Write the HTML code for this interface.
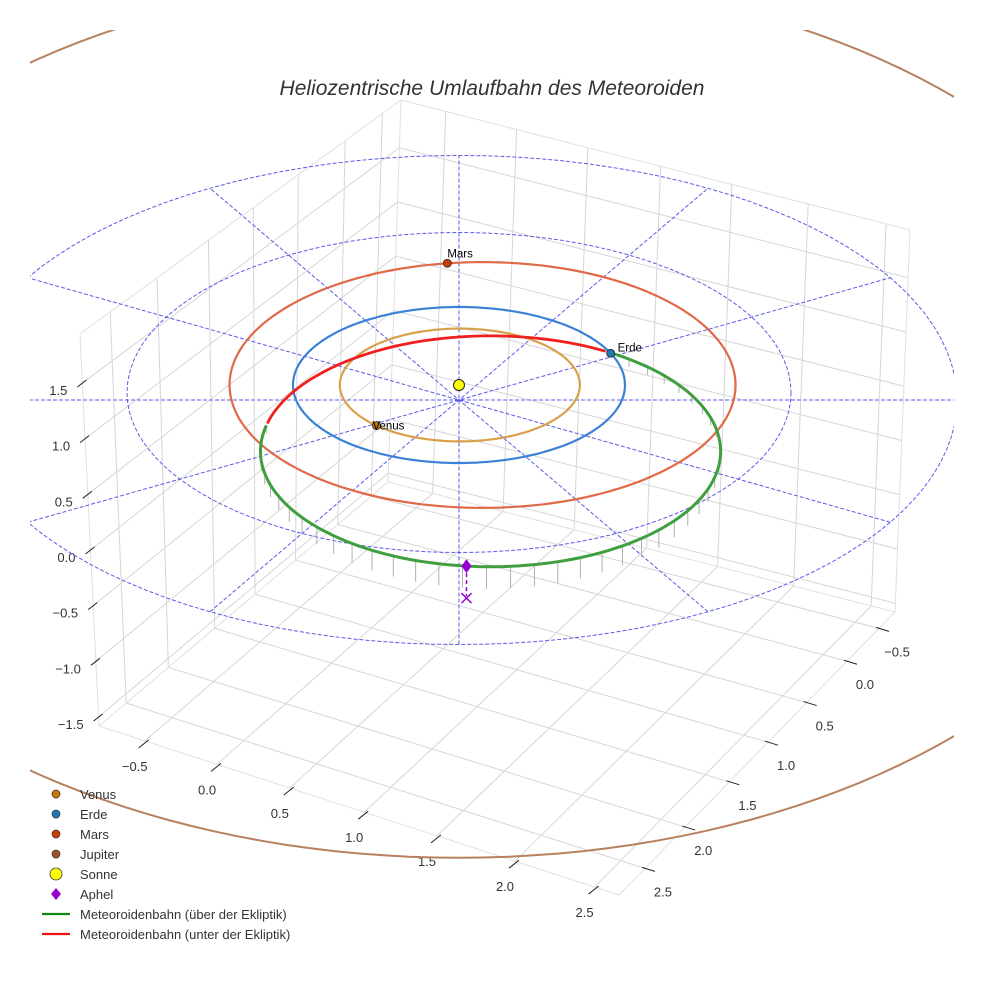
<!DOCTYPE html>
<html><head><meta charset="utf-8"><style>
html,body{margin:0;padding:0;background:#fff;}
svg{display:block;font-family:"Liberation Sans",sans-serif;}
</style></head><body>
<svg id="chart" width="984" height="984" viewBox="0 0 984 984" xmlns="http://www.w3.org/2000/svg">
<defs><clipPath id="ax"><rect x="30" y="30" width="924" height="954"/></clipPath></defs>
<text x="492" y="95" text-anchor="middle" font-size="21" font-style="italic" fill="#333">Heliozentrische Umlaufbahn des Meteoroiden</text>
<g id="box"></g>
<g id="plot" clip-path="url(#ax)"></g>
<g id="legend"></g>
</svg>
<script>
// ---- data ----
const planetNames = ["Venus","Erde","Mars","Jupiter"];
const planetA = [0.723, 1.0, 1.524, 5.203];
const planetE = [0.007, 0.0, 0.093, 0.0];
const planetAngle = [134, -24, -98, null];
const planetOrbitColor = ["#d9a04c","#3b82d6","#e06a48","#b8805e"];
const planetDotColor = ["#c8780a","#1f77b4","#cc3e00","#a0522d"];
const ringRadii = [2, 3];
const spokeAngles = [0, 30, 60, 90, 120, 150];
const meteorCenter = [0.19, 0.85];
const meteorAxes = [1.386, 1.48];
const meteorRedRange = [-166, -59];
const aphelAngle = 96;
const xTicks = ["−0.5","0.0","0.5","1.0","1.5","2.0","2.5"];
const yTicks = ["−0.5","0.0","0.5","1.0","1.5","2.0","2.5"];
const zTicks = ["−1.5","−1.0","−0.5","0.0","0.5","1.0","1.5"];

const NS="http://www.w3.org/2000/svg";
function mk(tag, attrs, parent){const e=document.createElementNS(NS,tag);for(const k in attrs)e.setAttribute(k,attrs[k]);parent.appendChild(e);return e;}
const box=document.getElementById('box'), plot=document.getElementById('plot'), legend=document.getElementById('legend');

// ---- box ----
const Lb=[99,726],Bb=[388,482],Rb=[895,612],Fb=[619,895],Lt=[80,334],Bt=[401,100],Rt=[910,230];
function lerp(a,b,t){return [a[0]+(b[0]-a[0])*t,a[1]+(b[1]-a[1])*t];}
function line(a,b,attrs,parent){return mk('line',Object.assign({x1:a[0],y1:a[1],x2:b[0],y2:b[1]},attrs),parent);}
const gridStyle={stroke:"#d6d6d6","stroke-width":1};
const xT=[0.088,0.227,0.367,0.51,0.65,0.80,0.953];
const yT=[0.058,0.174,0.32,0.46,0.60,0.76,0.906];
const zT=[0.023,0.165,0.307,0.449,0.591,0.733,0.875];
for(const t of xT){
  let g=line(lerp(Lb,Fb,t),lerp(Bb,Rb,t),gridStyle,box);
  
  
}
for(const t of yT){
  let h=line(lerp(Rb,Fb,t),lerp(Bb,Lb,t),gridStyle,box);
  
  
  let a=line(lerp(Bb,Lb,t),lerp(Bt,Lt,t),gridStyle,box);
  
  
}
for(const t of xT){
  let b=line(lerp(Bb,Rb,t),lerp(Bt,Rt,t),gridStyle,box);
  
  
}
for(const t of zT){
  let a=line(lerp(Lb,Lt,t),lerp(Bb,Bt,t),gridStyle,box);
  
  
  let b=line(lerp(Bb,Bt,t),lerp(Rb,Rt,t),gridStyle,box);
  
  
}
[[Lb,Lt],[Lb,Fb],[Rb,Fb],[Lt,Bt],[Bt,Rt],[Rt,Rb],[Bb,Bt],[Bb,Lb],[Bb,Rb]].forEach(p=>{let e=line(p[0],p[1],{stroke:"#e0e0e0","stroke-width":1},box);
  
  });
xTicks.forEach((lab,i)=>{const p=lerp(Lb,Fb,xT[i]);
  let tk=line([p[0]-6,p[1]+7],[p[0]+4,p[1]-1],{stroke:"#222","stroke-width":1},box);
  
  
  let tx=mk('text',{x:p[0]-10,y:p[1]+30,"font-size":13,fill:"#333","text-anchor":"middle"},box);tx.textContent=lab;
  
  });
yTicks.forEach((lab,i)=>{const p=lerp(Rb,Fb,yT[i]);
  let tk=line([p[0]-3,p[1]-1],[p[0]+10,p[1]+3],{stroke:"#222","stroke-width":1},box);
  
  
  let tx=mk('text',{x:p[0]+18,y:p[1]+28,"font-size":13,fill:"#333","text-anchor":"middle"},box);tx.textContent=lab;
  
  });
zTicks.forEach((lab,i)=>{const p=lerp(Lb,Lt,zT[i]);
  let tk=line([p[0]-5,p[1]+4],[p[0]+4,p[1]-3],{stroke:"#222","stroke-width":1},box);
  
  
  let tx=mk('text',{x:p[0]-15,y:p[1]+12,"font-size":13,fill:"#333","text-anchor":"end"},box);tx.textContent=lab;
  
  });

// ---- projection ----
const cx=459, cy=385;
function kx(r){return 166-Math.max(0,r-3)*12.7;}
function ky(r){return r<1.2?78:(r<1.8?81:77+1.5*r);}
function dy(r){return r<1.8?0:7.5*(r-1);}
function proj(x,y,r){return [cx+kx(r)*x, cy+ky(r)*y+dy(r)];}
function orbitPt(a,e,deg){const t=deg*Math.PI/180;return proj(a*e+a*Math.cos(t), a*Math.sqrt(1-e*e)*Math.sin(t), a);}
function pathFrom(pts){return pts.map((p,i)=>(i?'L':'M')+p[0].toFixed(1)+','+p[1].toFixed(1)).join('');}
function range(a,b,step){const r=[];for(let d=a;d<=b+1e-9;d+=step)r.push(d);return r;}

ringRadii.forEach(r=>{const pts=range(0,360,3).map(d=>orbitPt(r,0,d));
  let e=mk('path',{d:pathFrom(pts),fill:"none",stroke:"#5b5bea","stroke-width":1,"stroke-dasharray":"4,2"},plot);
  
  });
spokeAngles.forEach(a=>{const R=ringRadii[ringRadii.length-1];
  let e=line(orbitPt(R,0,a),orbitPt(R,0,a+180),{stroke:"#5b5bea","stroke-width":1,"stroke-dasharray":"4,2"},plot);
  
  });

planetNames.forEach((n,i)=>{const pts=range(0,360,2).map(d=>orbitPt(planetA[i],planetE[i],d));
  let e=mk('path',{d:pathFrom(pts),fill:"none",stroke:planetOrbitColor[i],"stroke-width":i==3?2:2.2},plot);
  
  });

function metPt(deg){const t=deg*Math.PI/180;return proj(meteorCenter[0]+meteorAxes[0]*Math.cos(t), meteorCenter[1]+meteorAxes[1]*Math.sin(t),1);}
const greenStart=meteorRedRange[1], greenEnd=meteorRedRange[0]+360;
for(let d=greenStart+6; d<greenEnd; d+=6){const p=metPt(d);const h=8+14*Math.max(0,Math.sin(d*Math.PI/180));
  let e=line(p,[p[0],p[1]+h],{stroke:"#b0b0b0","stroke-width":1},plot);
  
  }
let red=mk('path',{d:pathFrom(range(meteorRedRange[0],meteorRedRange[1],2).map(metPt)),fill:"none",stroke:"#f02020","stroke-width":2.8},plot);


let green=mk('path',{d:pathFrom(range(greenStart,greenEnd,2).map(metPt)),fill:"none",stroke:"#3f9f3f","stroke-width":3},plot);



const ap=metPt(aphelAngle);
let apl=line(ap,[ap[0],ap[1]+30],{stroke:"#9400d3","stroke-width":1.5,"stroke-dasharray":"4,3"},plot);


let apx=mk('path',{d:`M${ap[0]-5},${ap[1]+27}L${ap[0]+5},${ap[1]+37}M${ap[0]+5},${ap[1]+27}L${ap[0]-5},${ap[1]+37}`,stroke:"#9400d3","stroke-width":1.5,fill:"none"},plot);


let apd=mk('path',{d:`M${ap[0]},${ap[1]-7}L${ap[0]+5},${ap[1]}L${ap[0]},${ap[1]+7}L${ap[0]-5},${ap[1]}Z`,fill:"#9400d3"},plot);



let sun=mk('circle',{cx:cx,cy:cy,r:5.5,fill:"#ffff00",stroke:"#222","stroke-width":1},plot);



planetNames.forEach((n,i)=>{if(planetAngle[i]===null)return;const p=orbitPt(planetA[i],planetE[i],planetAngle[i]);
  let c=mk('circle',{cx:p[0],cy:p[1],r:4,fill:planetDotColor[i],stroke:"#222","stroke-width":0.8},plot);
  
  
  let t=mk('text',{x:p[0]+(n=="Mars"?0:n=="Venus"?-4:7),y:p[1]+(n=="Mars"?-6:n=="Venus"?4:-2),"font-size":11.5,fill:"#000"},plot);t.textContent=n;
  
  });

const legLabels=["Venus","Erde","Mars","Jupiter","Sonne","Aphel","Meteoroidenbahn (über der Ekliptik)","Meteoroidenbahn (unter der Ekliptik)"];
const legKinds=["dot","dot","dot","dot","sun","diamond","green","red"];
const legColors=["#c8780a","#1f77b4","#cc3e00","#a0522d","#ffff00","#9400d3","#118811","#ee1111"];
legLabels.forEach((lab,i)=>{const y=795+i*20;const g=mk('g',{},legend);
  
  
  const k=legKinds[i];
  if(k=="dot")mk('circle',{cx:56,cy:y-1,r:4,fill:legColors[i],stroke:"#333","stroke-width":0.7},g);
  else if(k=="sun")mk('circle',{cx:56,cy:y-1,r:6,fill:legColors[i],stroke:"#333","stroke-width":0.8},g);
  else if(k=="diamond")mk('path',{d:`M56,${y-7}L61,${y-1}L56,${y+5}L51,${y-1}Z`,fill:legColors[i]},g);
  else mk('line',{x1:42,y1:y-1,x2:70,y2:y-1,stroke:legColors[i],"stroke-width":2.2},g);
  const t=mk('text',{x:80,y:y+4,"font-size":13,fill:"#333"},g);t.textContent=lab;});
</script>
</body></html>
